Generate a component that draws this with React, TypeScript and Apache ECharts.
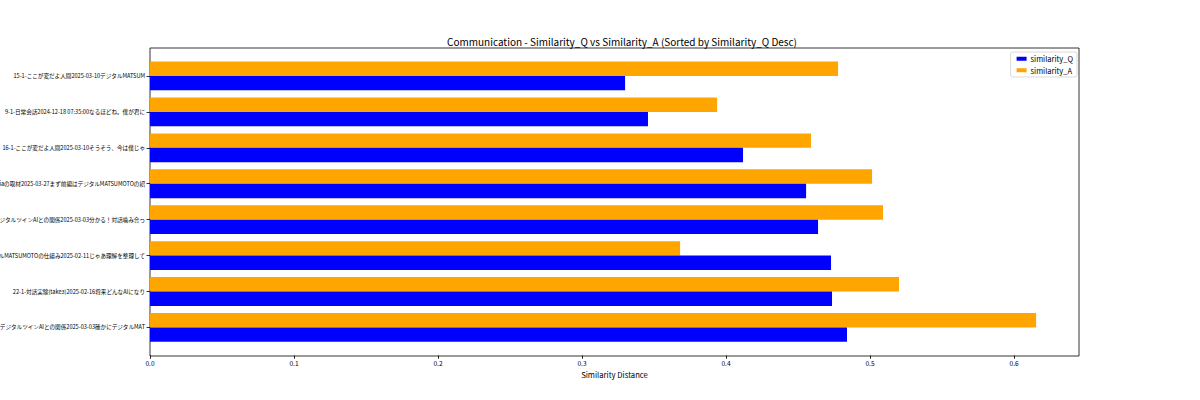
import React, { useEffect, useRef } from "react";
import * as echarts from "echarts";

const categories = [
  "15-1-ここが変だよ人間2025-03-10デジタルMATSUM",
  "9-1-日常会話2024-12-18 07:35:00なるほどね。僕が君に",
  "16-1-ここが変だよ人間2025-03-10そうそう、今は僕じゃ",
  "12-1-Mediaの取材2025-03-27まず前編はデジタルMATSUMOTOの紹",
  "3-1-デジタルツインAIとの関係2025-03-03分かる！対話噛み合っ",
  "4-1-デジタルMATSUMOTOの仕組み2025-02-11じゃあ理解を整理して",
  "22-1-対話実験(take3)2025-02-16将来どんなAIになり",
  "3-2-デジタルツインAIとの関係2025-03-03確かにデジタルMAT",
];
const similarityQ = [0.3299, 0.3458, 0.4118, 0.4556, 0.4639, 0.4729, 0.4736, 0.484];
const similarityA = [0.4778, 0.3938, 0.459, 0.5014, 0.509, 0.3681, 0.5201, 0.6153];
const xTicks = [0, 0.1, 0.2, 0.3, 0.4, 0.5, 0.6];

const FONT = "Noto Sans CJK JP";

export default function App() {
  const ref = useRef<HTMLDivElement>(null);
  useEffect(() => {
    document.body.style.margin = "0";
    const chart = echarts.init(ref.current!, null, { renderer: "svg" });
    const option: any = {
      animation: false,
      backgroundColor: "#fff",
      textStyle: { fontFamily: FONT },
      title: {
        text: "Communication - Similarity_Q vs Similarity_A (Sorted by Similarity_Q Desc)",
        left: 617,
        textAlign: "center",
        top: 31,
        textStyle: { fontFamily: FONT, fontSize: 10, fontWeight: "normal", color: "#000" },
      },
      legend: {
        orient: "vertical",
        right: 123,
        top: 52,
        padding: [3, 4, 3, 6],
        itemWidth: 10,
        itemHeight: 4,
        itemGap: 4,
        icon: "rect",
        borderColor: "#d0d0d0",
        borderWidth: 0.8,
        borderRadius: 2,
        backgroundColor: "rgba(255,255,255,0.8)",
        textStyle: { fontFamily: FONT, fontSize: 7.5, color: "#000", padding: [0, 0, 0, -1] },
        data: ["similarity_Q", "similarity_A"],
      },
      grid: [
        { left: 150, top: 48, width: 929, height: 308, show: true, borderColor: "#000", borderWidth: 0.8, backgroundColor: "transparent", containLabel: false, outerBoundsMode: "none" },
        { left: 150, top: 58, width: 929, height: 287.4, containLabel: false, outerBoundsMode: "none" },
      ],
      xAxis: [
        { gridIndex: 0, type: "value", min: 0, max: 0.6451, show: false },
        {
          gridIndex: 1,
          type: "value",
          min: 0,
          max: 0.6451,
          interval: 0.1,
          offset: 10,
          position: "bottom",
          name: "Similarity Distance",
          nameLocation: "middle",
          nameGap: 14,
          nameTextStyle: { fontFamily: FONT, fontSize: 7.7, color: "#000" },
          axisLine: { show: false },
          axisTick: { show: true, length: 3.5, lineStyle: { color: "#000", width: 0.8 } },
          axisLabel: {
            fontFamily: FONT,
            fontSize: 6.6,
            color: "#000",
            margin: 4,
            showMaxLabel: false,
            formatter: (v: number) => (xTicks.some((t) => Math.abs(t - v) < 1e-9) ? v.toFixed(1) : ""),
          },
          splitLine: { show: false },
        },
      ],
      yAxis: [
        { gridIndex: 0, type: "value", show: false },
        {
          gridIndex: 1,
          type: "category",
          inverse: true,
          data: categories,
          axisLine: { show: false },
          axisTick: { show: true, alignWithLabel: true, length: 3.5, lineStyle: { color: "#000", width: 0.8 } },
          axisLabel: { fontFamily: FONT, fontSize: 5.6, color: "#000", margin: 5, interval: 0 },
          splitLine: { show: false },
        },
      ],
      series: [
        {
          name: "similarity_A",
          type: "bar",
          xAxisIndex: 1,
          yAxisIndex: 1,
          data: similarityA,
          barWidth: 14.4,
          barGap: "0%",
          itemStyle: { color: "#ffa500" },
        },
        {
          name: "similarity_Q",
          type: "bar",
          xAxisIndex: 1,
          yAxisIndex: 1,
          data: similarityQ,
          barWidth: 14.4,
          barGap: "0%",
          itemStyle: { color: "#0000ff" },
        },
      ],
    };
    chart.setOption(option);
    return () => chart.dispose();
  }, []);
  return <div ref={ref} style={{ position: "fixed", left: 0, top: 0, width: 1200, height: 400 }} />;
}
